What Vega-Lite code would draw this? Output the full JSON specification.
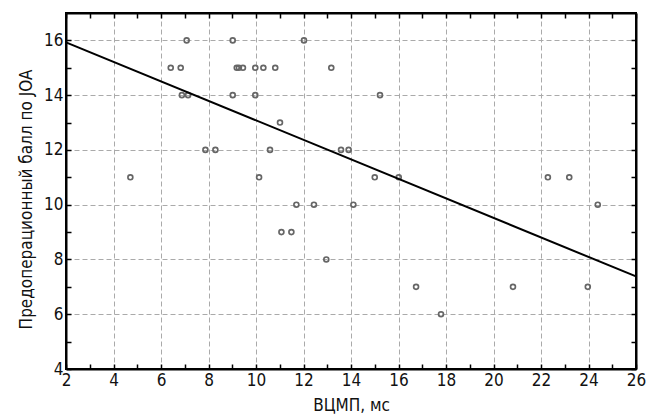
{
  "$schema": "https://vega.github.io/schema/vega-lite/v6.json",
  "width": 570,
  "height": 356,
  "autosize": {"type": "none"},
  "padding": {"left": 66, "top": 13, "right": 16, "bottom": 47},
  "background": "white",
  "config": {
    "font": "DejaVu Sans Condensed, Liberation Sans Narrow, sans-serif",
    "view": {"stroke": "black", "strokeWidth": 2},
    "axis": {
      "labelFont": "DejaVu Sans Condensed, Liberation Sans Narrow, sans-serif",
      "titleFont": "DejaVu Sans Condensed, Liberation Sans Narrow, sans-serif",
      "labelFontSize": 17,
      "titleFontSize": 17,
      "labelColor": "#111",
      "titleColor": "#111",
      "titleFontWeight": "normal",
      "domainColor": "black",
      "domainWidth": 2,
      "tickColor": "black",
      "tickWidth": 1.5,
      "tickSize": -5,
      "gridColor": "#aaa",
      "gridDash": [5, 3],
      "gridWidth": 1
    }
  },
  "layer": [
    {
      "data": {"values": [
        {"x": 4.71, "y": 11}, {"x": 7.08, "y": 16}, {"x": 9.02, "y": 16}, {"x": 12.02, "y": 16},
        {"x": 6.41, "y": 15}, {"x": 6.83, "y": 15}, {"x": 9.19, "y": 15}, {"x": 9.28, "y": 15},
        {"x": 9.45, "y": 15}, {"x": 9.97, "y": 15}, {"x": 10.31, "y": 15}, {"x": 10.81, "y": 15},
        {"x": 13.17, "y": 15}, {"x": 6.88, "y": 14}, {"x": 7.14, "y": 14}, {"x": 9.02, "y": 14},
        {"x": 9.97, "y": 14}, {"x": 15.22, "y": 14}, {"x": 11.01, "y": 13}, {"x": 7.87, "y": 12},
        {"x": 8.29, "y": 12}, {"x": 10.59, "y": 12}, {"x": 13.58, "y": 12}, {"x": 13.9, "y": 12},
        {"x": 10.13, "y": 11}, {"x": 15.0, "y": 11}, {"x": 16.01, "y": 11}, {"x": 22.29, "y": 11},
        {"x": 23.19, "y": 11}, {"x": 11.7, "y": 10}, {"x": 12.44, "y": 10}, {"x": 14.1, "y": 10},
        {"x": 24.39, "y": 10}, {"x": 11.07, "y": 9}, {"x": 11.49, "y": 9}, {"x": 12.96, "y": 8},
        {"x": 16.74, "y": 7}, {"x": 20.82, "y": 7}, {"x": 23.97, "y": 7}, {"x": 17.79, "y": 6}
      ]},
      "mark": {"type": "point", "shape": "circle", "filled": false, "stroke": "#666", "strokeWidth": 1.7, "size": 24, "opacity": 1},
      "encoding": {
        "x": {
          "field": "x", "type": "quantitative",
          "scale": {"domain": [2, 26], "nice": false, "zero": false},
          "axis": {
            "orient": "bottom", "title": "ВЦМП, мс", "titlePadding": 9,
            "values": [2,3,4,5,6,7,8,9,10,11,12,13,14,15,16,17,18,19,20,21,22,23,24,25,26],
            "labelExpr": "datum.value % 2 == 0 ? datum.label : ''",
            "labelPadding": 8, "labelFlush": false,
            "grid": true,
            "gridOpacity": {"condition": {"test": "datum.value % 2 == 0", "value": 1}, "value": 0}
          }
        },
        "y": {
          "field": "y", "type": "quantitative",
          "scale": {"domain": [4, 17], "nice": false, "zero": false},
          "axis": {
            "orient": "left", "title": "Предоперационный балл по JOA", "titlePadding": 8, "titleY": 186,
            "values": [4,5,6,7,8,9,10,11,12,13,14,15,16],
            "labelExpr": "datum.value % 2 == 0 ? datum.label : ''",
            "labelPadding": 8, "labelFlush": false,
            "grid": true,
            "gridOpacity": {"condition": {"test": "datum.value % 2 == 0", "value": 1}, "value": 0}
          }
        }
      }
    },
    {
      "data": {"values": [{"x": 2, "y": 15.93}, {"x": 26, "y": 7.38}]},
      "mark": {"type": "line", "color": "black", "strokeWidth": 2},
      "encoding": {
        "x": {
          "field": "x", "type": "quantitative",
          "axis": {"orient": "top", "title": null, "labels": false, "grid": false,
            "values": [2,3,4,5,6,7,8,9,10,11,12,13,14,15,16,17,18,19,20,21,22,23,24,25,26]}
        },
        "y": {
          "field": "y", "type": "quantitative",
          "axis": {"orient": "right", "title": null, "labels": false, "grid": false,
            "values": [4,5,6,7,8,9,10,11,12,13,14,15,16]}
        }
      }
    }
  ],
  "resolve": {"axis": {"x": "independent", "y": "independent"}}
}
